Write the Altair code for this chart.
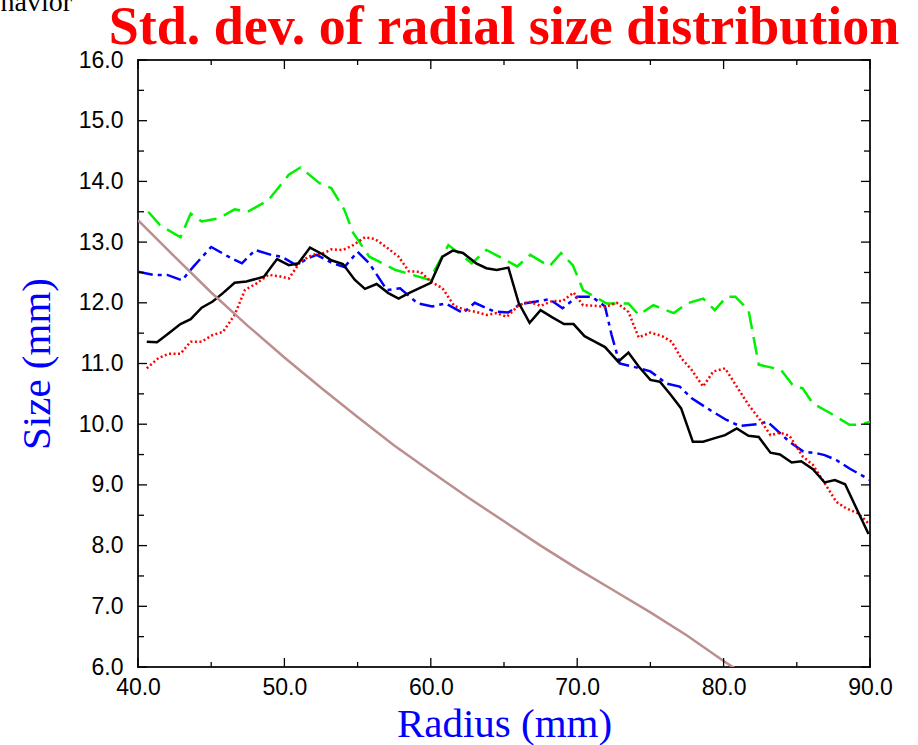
import altair as alt
import pandas as pd

# ---------------- data ----------------
green_x = [40.7, 41.5, 42.9, 43.6, 44.35, 45.5, 46.6, 47.5, 48.9, 50.3, 51.1, 52.4, 53.2, 54.1, 54.7,
           55.8, 57.6, 59.9, 61.2, 62.8, 63.8, 64.6, 65.9, 66.8, 68.1, 68.9, 69.7, 70.4, 72.0, 73.5,
           74.2, 75.2, 76.6, 77.5, 78.6, 79.4, 80.2, 80.8, 81.7, 82.4, 83.9, 84.7, 85.4, 86.1, 87.3,
           88.6, 89.3, 90.0]
green_y = [13.50, 13.28, 13.08, 13.47, 13.34, 13.39, 13.54, 13.50, 13.69, 14.11, 14.23, 13.97, 13.89, 13.53, 13.15,
           12.76, 12.54, 12.38, 12.95, 12.65, 12.87, 12.77, 12.60, 12.79, 12.60, 12.82, 12.62, 12.21, 11.99, 11.99,
           11.80, 11.96, 11.83, 11.99, 12.07, 11.88, 12.10, 12.10, 11.88, 10.98, 10.90, 10.65, 10.59, 10.34, 10.18,
           9.99, 9.99, 10.04]

black_x = [40.6, 41.3, 42.1, 42.9, 43.6, 44.35, 45.1, 45.8, 46.6, 47.4, 48.6, 49.5, 50.3, 50.95, 51.75,
           52.6, 53.2, 54.0, 54.8, 55.5, 56.3, 57.1, 57.8, 58.5, 60.0, 60.8, 61.5, 62.2, 63.1, 63.8,
           64.5, 65.3, 66.0, 66.75, 67.5, 68.3, 69.1, 69.75, 70.5, 71.2, 71.9, 72.8, 73.5, 74.2, 75.0,
           75.65, 76.4, 77.1, 77.9, 78.6, 79.4, 80.1, 80.9, 81.7, 82.4, 83.2, 83.85, 84.65, 85.3, 86.1,
           86.9, 87.6, 88.3, 89.9]
black_y = [11.36, 11.35, 11.50, 11.65, 11.73, 11.92, 12.02, 12.16, 12.33, 12.35, 12.43, 12.72, 12.62, 12.65, 12.91,
           12.80, 12.70, 12.64, 12.38, 12.23, 12.31, 12.16, 12.07, 12.16, 12.33, 12.76, 12.86, 12.82, 12.65, 12.57,
           12.54, 12.58, 12.00, 11.67, 11.88, 11.76, 11.65, 11.65, 11.45, 11.36, 11.27, 11.03, 11.18, 10.95, 10.73,
           10.70, 10.48, 10.26, 9.71, 9.71, 9.77, 9.82, 9.93, 9.81, 9.79, 9.53, 9.50, 9.37, 9.39, 9.26,
           9.04, 9.08, 9.01, 8.19]

red_x = [40.6, 41.4, 42.1, 42.9, 43.6, 44.35, 45.1, 45.8, 46.6, 47.3, 48.1, 48.9, 49.6, 50.3, 51.1,
         51.9, 52.7, 53.2, 54.0, 54.7, 55.5, 56.2, 57.0, 57.8, 58.5, 59.3, 60.0, 60.8, 61.6, 62.4,
         63.1, 63.8, 64.5, 65.2, 66.0, 66.7, 67.5, 68.3, 69.0, 69.75, 70.4, 71.2, 71.9, 72.7, 73.5,
         74.2, 75.0, 75.8, 76.45, 77.1, 77.8, 78.6, 79.3, 80.1, 80.9, 81.7, 82.5, 83.2, 83.85, 84.5,
         85.4, 86.1, 86.9, 87.7, 88.4, 89.2, 90.0]
red_y = [10.92, 11.09, 11.16, 11.16, 11.36, 11.36, 11.47, 11.52, 11.80, 12.21, 12.32, 12.46, 12.44, 12.40, 12.68,
         12.79, 12.82, 12.88, 12.87, 12.95, 13.08, 13.05, 12.91, 12.76, 12.52, 12.51, 12.35, 12.24, 11.95, 11.88,
         11.85, 11.80, 11.83, 11.77, 11.96, 12.02, 11.95, 12.03, 12.03, 12.17, 11.96, 11.95, 11.93, 12.00, 11.85,
         11.43, 11.51, 11.45, 11.36, 11.09, 10.90, 10.62, 10.87, 10.92, 10.62, 10.32, 10.07, 9.82, 9.86, 9.81,
         9.47, 9.33, 9.03, 8.72, 8.61, 8.53, 8.34]

blue_x = [40.0, 41.05, 42.0, 43.0, 43.8, 45.0, 46.4, 47.1, 48.0, 49.1, 49.8, 50.8, 51.6, 52.2, 53.3,
          54.1, 55.0, 55.8, 57.0, 57.9, 59.1, 60.1, 61.0, 62.2, 63.0, 64.3, 65.3, 66.1, 67.2, 68.1,
          69.0, 70.0, 71.0, 71.9, 72.35, 72.9, 73.8, 75.0, 76.1, 77.0, 77.8, 79.1, 80.2, 81.1, 82.3,
          83.0, 83.5, 84.5, 85.45, 86.4, 86.9, 87.7, 88.6, 90.0]
blue_y = [12.51, 12.46, 12.46, 12.37, 12.60, 12.92, 12.73, 12.65, 12.87, 12.79, 12.76, 12.62, 12.73, 12.79, 12.65,
          12.59, 12.84, 12.65, 12.21, 12.24, 11.99, 11.94, 11.99, 11.83, 12.00, 11.86, 11.84, 11.98, 12.02, 12.06,
          11.91, 12.10, 12.10, 11.94, 11.47, 11.00, 10.95, 10.87, 10.67, 10.62, 10.43, 10.23, 10.07, 9.97, 10.00,
          10.04, 9.93, 9.71, 9.55, 9.52, 9.49, 9.41, 9.27, 9.08]

brown_x = [40, 42.5, 45, 47.5, 50, 52.5, 55, 57.5, 60, 62.5, 65, 67.5, 70, 72.5, 75, 77.5, 80, 82.5]
brown_y = [13.36, 12.76, 12.17, 11.62, 11.10, 10.60, 10.12, 9.65, 9.22, 8.80, 8.40, 8.00, 7.62, 7.26,
           6.90, 6.52, 6.10, 5.70]

x_major = [40, 50, 60, 70, 80, 90]
x_minor = [45, 55, 65, 75, 85]
y_major = [6, 7, 8, 9, 10, 11, 12, 13, 14, 15, 16]
y_minor = [6.5, 7.5, 8.5, 9.5, 10.5, 11.5, 12.5, 13.5, 14.5, 15.5]

title_text = "Std. dev. of radial size distribution"
corner_text = "behavior"

W, H = 732, 607

xs = alt.Scale(domain=[40, 90], nice=False, zero=False)
ys = alt.Scale(domain=[6, 16], nice=False, zero=False)

x_axis = alt.Axis(values=x_major, format=".1f", ticks=False, domain=False, grid=False,
                  labelFont="Liberation Sans", labelFontSize=23, labelColor="black",
                  labelFlush=False, labelOverlap=False,
                  labelPadding=9, title="Radius (mm)", titleFont="Liberation Serif",
                  titleFontSize=41, titleFontWeight="normal", titleColor="blue",
                  titlePadding=5)
y_axis = alt.Axis(values=y_major, format=".1f", ticks=False, domain=False, grid=False,
                  labelFont="Liberation Sans", labelFontSize=23, labelColor="black",
                  labelFlush=False, labelOverlap=False,
                  labelPadding=15, title="Size (mm)", titleFont="Liberation Serif",
                  titleFontSize=41, titleFontWeight="normal", titleColor="blue",
                  titlePadding=20)


def X(field):
    return alt.X(field, type="quantitative", scale=xs, axis=x_axis)


def Y(field):
    return alt.Y(field, type="quantitative", scale=ys, axis=y_axis)


def series(xv, yv, color, dash, width=2.5):
    df = pd.DataFrame({"r": xv, "s": yv})
    mk = dict(color=color, strokeWidth=width, clip=True, interpolate="linear")
    if dash:
        mk["strokeDash"] = dash
    return alt.Chart(df).mark_line(**mk).encode(x=X("r"), y=Y("s"))


green = series(green_x, green_y, "#00f000", [18, 8], 2.5)
blue = series(blue_x, blue_y, "#0000ff", [15, 5, 4, 5], 2.5)
red = series(red_x, red_y, "#ff0000", [2, 2.5], 2.5)
black = series(black_x, black_y, "#000000", None, 2.5)
brown = series(brown_x, brown_y, "#bc8f8f", None, 2.5)


def xticks(vals, length):
    df = pd.DataFrame({"r": vals})
    bot = alt.Chart(df).mark_rule(color="black", strokeWidth=1.3).encode(
        x=X("r"), y=alt.value(H), y2=alt.value(H - length))
    top = alt.Chart(df).mark_rule(color="black", strokeWidth=1.3).encode(
        x=X("r"), y=alt.value(0), y2=alt.value(length))
    return [bot, top]


def yticks(vals, length):
    df = pd.DataFrame({"s": vals})
    lef = alt.Chart(df).mark_rule(color="black", strokeWidth=1.3).encode(
        y=Y("s"), x=alt.value(0), x2=alt.value(length))
    rig = alt.Chart(df).mark_rule(color="black", strokeWidth=1.3).encode(
        y=Y("s"), x=alt.value(W), x2=alt.value(W - length))
    return [lef, rig]


corner = alt.Chart(pd.DataFrame({"txt": [corner_text]})).mark_text(
    font="Liberation Serif", fontSize=28, align="right", baseline="alphabetic", color="black"
).encode(text="txt:N", x=alt.value(72 - 138), y=alt.value(11 - 60))

title = alt.Chart(pd.DataFrame({"txt": [title_text]})).mark_text(
    font="Liberation Serif", fontSize=54, fontWeight="bold", align="center",
    baseline="alphabetic", color="red"
).encode(text="txt:N", x=alt.value(W / 2), y=alt.value(44 - 60))

layers = [green, blue, red, black, brown]
layers += xticks(x_major, 9) + xticks(x_minor, 5) + yticks(y_major, 9) + yticks(y_minor, 6)
layers += [corner, title]

chart = alt.layer(*layers).properties(
    width=W, height=H,
    autosize=alt.AutoSizeParams(type="none"),
    padding={"left": 138, "top": 60, "right": 48, "bottom": 78},
).configure_view(stroke="#222222", strokeWidth=2)

chart.save("out.html", embed_options={"renderer": "svg", "actions": False})
